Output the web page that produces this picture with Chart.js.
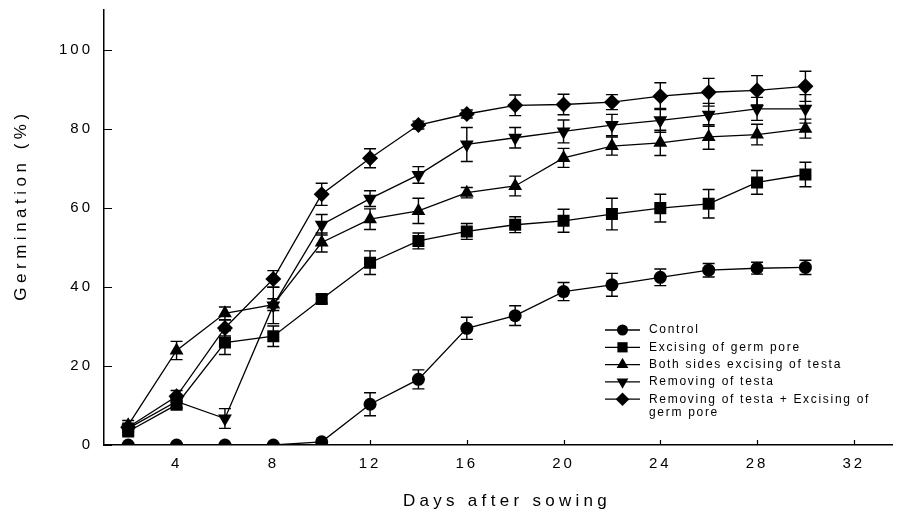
<!DOCTYPE html>
<html>
<head>
<meta charset="utf-8">
<title>Germination</title>
<script src="https://cdn.jsdelivr.net/npm/chart.js@4.4.0/dist/chart.umd.min.js"></script>
<style>
  body { margin: 0; background: #fff; }
  #mycanvas { display: block; }
</style>
</head>
<body>
<canvas id="mycanvas" width="901" height="515"></canvas>
<script>
// days after sowing
var days = [2, 4, 6, 8, 10, 12, 14, 16, 18, 20, 22, 24, 26, 28, 30];

// germination (%) and standard error per treatment
var control = [0, 0, 0, 0, 0.8, 10.3, 16.6, 29.5, 32.7, 38.8, 40.5, 42.4, 44.2, 44.7, 44.9];
var controlErr = [0, 0, 0, 0, 0, 2.9, 2.4, 2.8, 2.5, 2.3, 2.9, 2.1, 1.7, 1.5, 1.8];

var germPore = [3.4, 10.2, 25.9, 27.5, 36.9, 46.1, 51.6, 54.0, 55.7, 56.7, 58.4, 59.9, 61.0, 66.4, 68.4];
var germPoreErr = [0.8, 1, 3, 2.6, 1, 3, 2, 2, 2, 2.9, 4, 3.5, 3.6, 3, 3.1];

var bothSides = [5.0, 23.9, 33.3, 35.5, 51.2, 57.1, 59.2, 63.8, 65.5, 72.6, 75.6, 76.4, 77.9, 78.5, 80.0];
var bothSidesErr = [1.2, 2.3, 1.6, 1.5, 2.4, 2.6, 3.2, 1.3, 2.5, 2.4, 2.3, 3.2, 3.1, 2.6, 2.4];

var testa = [4.2, 11.0, 6.7, 35.3, 55.7, 62.3, 68.3, 76.0, 77.7, 79.3, 80.9, 82.1, 83.5, 85.0, 85.0];
var testaErr = [1, 1.5, 2.5, 4.6, 2.6, 2.0, 2.1, 4.3, 2.6, 2.9, 2.7, 3.0, 2.9, 2.9, 3.6];

var testaGermPore = [4.5, 12.3, 29.6, 42.0, 63.4, 72.5, 80.9, 83.7, 85.9, 86.1, 86.7, 88.2, 89.2, 89.7, 90.7];
var testaGermPoreErr = [1, 1.5, 2, 2.1, 2.8, 2.4, 1, 1, 2.6, 2.6, 1.9, 3.4, 3.5, 3.7, 3.8];

var xTicks = [4, 8, 12, 16, 20, 24, 28, 32];
var yTicks = [0, 20, 40, 60, 80, 100];

var labels = [
  ['Control'],
  ['Excising of germ pore'],
  ['Both sides excising of testa'],
  ['Removing of testa'],
  ['Removing of testa + Excising of', 'germ pore']
];

var FONT = '"Liberation Sans", Arial, sans-serif';

function points(vals) {
  var out = [];
  for (var i = 0; i < days.length; i++) {
    out.push({x: days[i], y: vals[i]});
  }
  return out;
}

function series(vals, err, style, radius, rotation) {
  return {
    data: points(vals),
    errors: err,
    borderColor: '#000',
    backgroundColor: '#000',
    borderWidth: 1.3,
    pointStyle: style,
    pointRadius: radius,
    pointRotation: rotation || 0,
    pointBorderWidth: 0,
    pointHoverRadius: radius,
    tension: 0
  };
}

var chartdata = {
  datasets: [
    series(control, controlErr, 'circle', 6.5),
    series(germPore, germPoreErr, 'rect', 8.5),
    series(bothSides, bothSidesErr, 'triangle', 8),
    series(testa, testaErr, 'triangle', 8, 180),
    series(testaGermPore, testaGermPoreErr, 'rectRot', 8)
  ]
};

// vertical error bars with caps, under the markers
var errorBars = {
  id: 'errorBars',
  beforeDatasetsDraw: function(chart) {
    var ctx = chart.ctx;
    var xs = chart.scales.x, ys = chart.scales.y;
    ctx.save();
    ctx.strokeStyle = '#000';
    ctx.lineWidth = 1.4;
    chart.data.datasets.forEach(function(ds) {
      ds.data.forEach(function(p, i) {
        var e = ds.errors[i];
        if (!e) return;
        var px = xs.getPixelForValue(p.x);
        var top = ys.getPixelForValue(p.y + e);
        var bot = ys.getPixelForValue(p.y - e);
        ctx.beginPath();
        ctx.moveTo(px, top); ctx.lineTo(px, bot);
        ctx.moveTo(px - 6, top); ctx.lineTo(px + 6, top);
        ctx.moveTo(px - 6, bot); ctx.lineTo(px + 6, bot);
        ctx.stroke();
      });
    });
    ctx.restore();
  }
};

// wide letter spacing on the tick labels
var spacing = {
  id: 'spacing',
  beforeDraw: function(chart) {
    chart.ctx.letterSpacing = '3px';
  }
};

function marker(ctx, style, r, rot, x, y) {
  ctx.beginPath();
  if (style === 'circle') {
    ctx.arc(x, y, r, 0, Math.PI * 2);
  } else if (style === 'rect') {
    var s = r * Math.SQRT1_2;
    ctx.rect(x - s, y - s, 2 * s, 2 * s);
  } else if (style === 'rectRot') {
    ctx.moveTo(x, y - r); ctx.lineTo(x + r, y);
    ctx.lineTo(x, y + r); ctx.lineTo(x - r, y);
  } else {
    var a = rot * Math.PI / 180;
    for (var k = 0; k < 3; k++) {
      var px = x + Math.sin(a) * r, py = y - Math.cos(a) * r;
      if (k === 0) ctx.moveTo(px, py); else ctx.lineTo(px, py);
      a += Math.PI * 2 / 3;
    }
  }
  ctx.closePath();
  ctx.fill();
}

function spacedText(ctx, text, x, y, gap) {
  ctx.letterSpacing = gap + 'px';
  ctx.fillText(text, x, y);
}

// inward tick marks, axis titles and the legend box
var decorations = {
  id: 'decorations',
  afterDraw: function(chart) {
    var ctx = chart.ctx;
    var xs = chart.scales.x, ys = chart.scales.y;
    var area = chart.chartArea;
    ctx.save();
    ctx.strokeStyle = '#000';
    ctx.lineWidth = 1.2;
    ctx.beginPath();
    yTicks.forEach(function(v) {
      var py = Math.round(ys.getPixelForValue(v)) + 0.5;
      ctx.moveTo(area.left, py); ctx.lineTo(area.left + 8, py);
    });
    xTicks.forEach(function(v) {
      var px = Math.round(xs.getPixelForValue(v)) + 0.5;
      ctx.moveTo(px, area.bottom); ctx.lineTo(px, area.bottom - 5);
    });
    ctx.stroke();

    ctx.fillStyle = '#000';
    ctx.textBaseline = 'middle';
    ctx.textAlign = 'center';
    ctx.font = '17px ' + FONT;
    spacedText(ctx, 'Days after sowing', 507, 501, 4.3);

    ctx.save();
    ctx.translate(21, 205);
    ctx.rotate(-Math.PI / 2);
    spacedText(ctx, 'Germination (%)', 0, 0, 4.5);
    ctx.restore();

    // legend
    var lx = 605, ly = 330, row = 17.3;
    ctx.textAlign = 'left';
    ctx.font = '12px ' + FONT;
    chart.data.datasets.forEach(function(ds, i) {
      var y = ly + i * row;
      ctx.lineWidth = 1.3;
      ctx.beginPath();
      ctx.moveTo(lx, y); ctx.lineTo(lx + 35, y);
      ctx.stroke();
      marker(ctx, ds.pointStyle, ds.pointRadius * 0.85, ds.pointRotation, lx + 17.5, y);
      labels[i].forEach(function(line, j) {
        spacedText(ctx, line, lx + 44, y + j * 13, 1.7);
      });
    });
    ctx.restore();
  }
};

var ctx = document.getElementById('mycanvas').getContext('2d');

var Graph = new Chart(ctx, {
  type: 'line',
  data: chartdata,
  plugins: [spacing, errorBars, decorations],
  options: {
    responsive: false,
    animation: false,
    layout: { padding: { top: 10, right: 2, left: 0, bottom: 0 } },
    plugins: {
      legend: { display: false },
      tooltip: { enabled: false }
    },
    scales: {
      x: {
        type: 'linear',
        min: 1,
        max: 33.6,
        afterBuildTicks: function(scale) {
          scale.ticks = xTicks.map(function(v) { return {value: v}; });
        },
        afterFit: function(scale) {
          scale.height = 70;
          scale.paddingLeft = 0;
          scale.paddingRight = 0;
        },
        grid: { display: false, drawTicks: false },
        border: { display: true, color: '#000', width: 1.5 },
        ticks: {
          color: '#000',
          padding: 10,
          maxRotation: 0,
          font: { family: FONT, size: 15 }
        }
      },
      y: {
        type: 'linear',
        min: 0,
        max: 110,
        afterBuildTicks: function(scale) {
          scale.ticks = yTicks.map(function(v) { return {value: v}; });
        },
        afterFit: function(scale) {
          scale.width = 104;
          scale.paddingTop = 0;
          scale.paddingBottom = 0;
        },
        grid: { display: false, drawTicks: false },
        border: { display: true, color: '#000', width: 1.5 },
        ticks: {
          color: '#000',
          padding: 11,
          font: { family: FONT, size: 15 }
        }
      }
    }
  }
});
</script>
</body>
</html>
